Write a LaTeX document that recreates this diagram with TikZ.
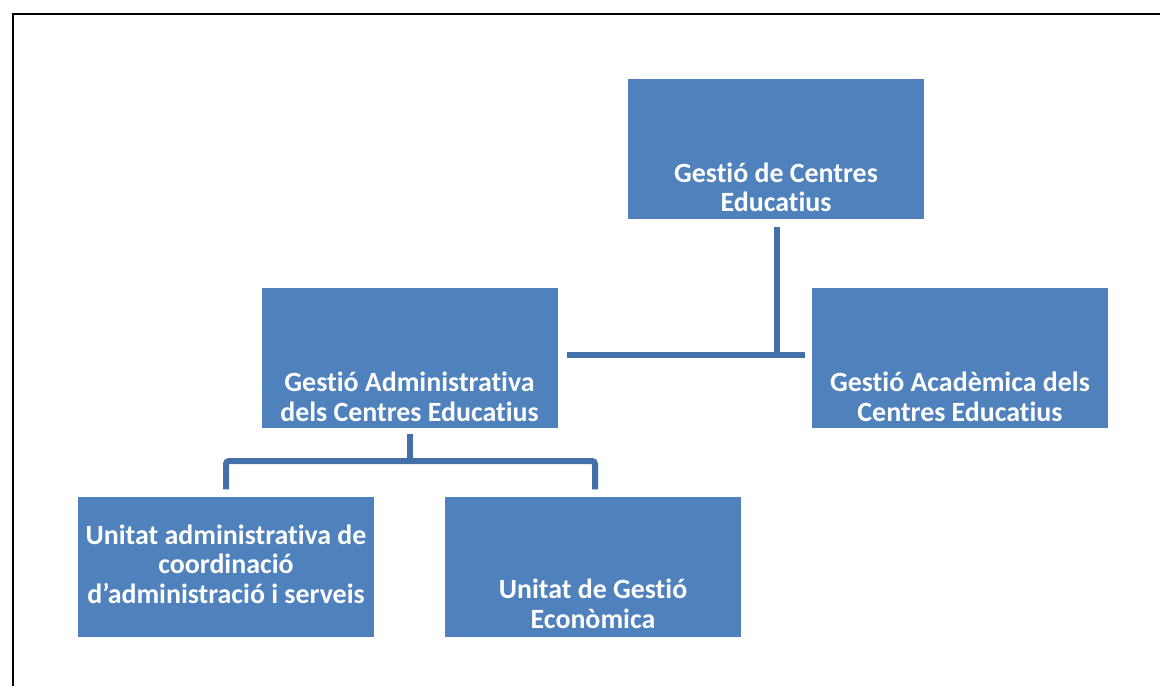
\documentclass[tikz,border=0pt]{standalone}
\usepackage{fontspec}
\setmainfont{Carlito}[Ligatures=NoCommon]
\definecolor{boxblue}{HTML}{4F81BD}
\definecolor{lineblue}{HTML}{4470AA}
\begin{document}
\begin{tikzpicture}[x=1bp,y=-1bp,
  box/.style={fill=boxblue, draw=none, minimum width=296bp, minimum height=140bp, inner sep=0pt},
  lbl/.style={text=white, font=\bfseries\fontsize{28}{29.5}\selectfont, align=center, inner sep=0pt, anchor=base},
  conn/.style={draw=lineblue, line width=6bp}]
\useasboundingbox (0,0) rectangle (1160,686);
\draw[line width=2bp] (12.5,687) -- (12.5,14) -- (1161,14);

\node[box] (top) at (776,149) {};
\node[box] (adm) at (409.5,358) {};
\node[box] (acad) at (960,357.5) {};
\node[box] (unit1) at (226,566.5) {};
\node[box] (unit2) at (593,566.5) {};

% anchor=base is the baseline of the last line
\node[lbl] (topt) at (776,212) {Gestió de Centres\\Educatius};
\node[lbl] (admt) at (409.5,421) {Gestió Administrativa\\dels Centres Educatius};
\node[lbl] (acadt) at (960,421) {Gestió Acadèmica dels\\Centres Educatius};
\node[lbl] (unit1t) at (226,603) {Unitat administrativa de\\coordinació\\d’administració i serveis};
\node[lbl] (unit2t) at (593,628) {Unitat de Gestió\\Econòmica};

\coordinate (j1) at (777,355);
\coordinate (j2) at (410,461);
\draw[conn] ([xshift=1bp,yshift=-8bp]top.south) -- ([xshift=1bp,yshift=-3bp]top.south |- j1);
\draw[conn] ([xshift=9bp]adm.east |- j1) -- ([xshift=-7bp]acad.west |- j1);
\draw[conn] ([yshift=-6bp]adm.south) -- (adm.south |- j2);
\draw[conn, rounded corners=3bp] ([yshift=7bp]unit1.north) -- (unit1.north |- j2) -- ([xshift=2bp]unit2.north |- j2) -- ([xshift=2bp,yshift=7bp]unit2.north);
\end{tikzpicture}
\end{document}
